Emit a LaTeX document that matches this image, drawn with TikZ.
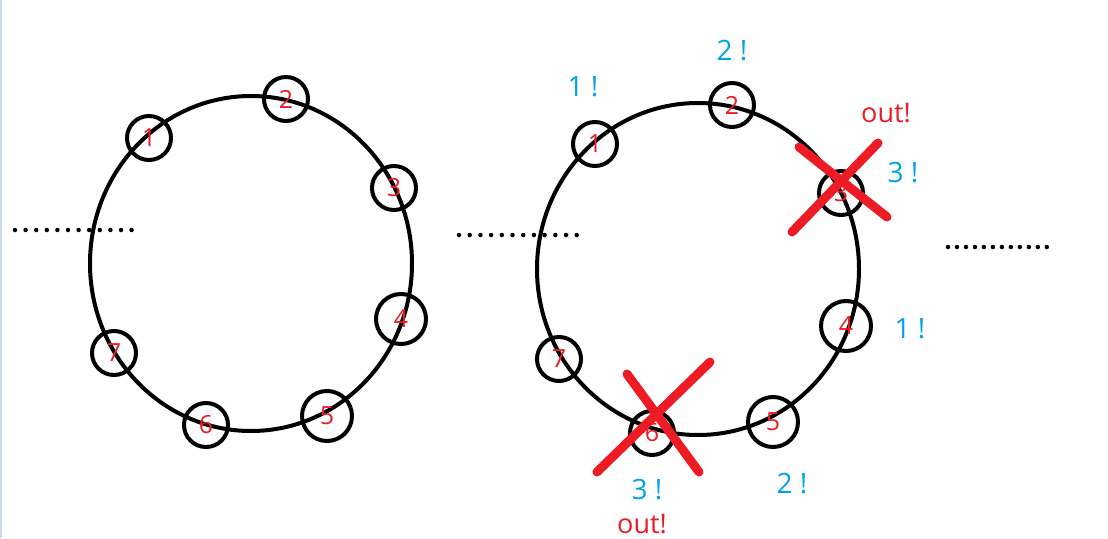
\documentclass[tikz,border=0pt]{standalone}
\usepackage{fontspec}
\setmainfont{Open Sans}
\usetikzlibrary{positioning}
\definecolor{paintred}{HTML}{ED1C24}
\definecolor{paintblue}{HTML}{00A2E8}
\definecolor{edgeblue}{HTML}{C8D8EC}

\begin{document}
\begin{tikzpicture}[x=1pt,y=-1pt,
  seat/.style={circle,draw,line width=4pt,minimum size=44pt,inner sep=0pt,text=paintred,font=\fontsize{25}{25}\selectfont},
  bigseat/.style={seat,minimum size=50pt},
  call/.style={text=paintblue,font=\fontsize{28}{28}\selectfont},
  outtext/.style={text=paintred,font=\fontsize{27}{27}\selectfont},
  ring/.style={line width=4pt},
  dotrow/.style={line width=4.5pt,line cap=round,dash pattern=on 0pt off #1},
  cross/.style={paintred,line width=9pt,line cap=round}]
\useasboundingbox (0,0) rectangle (1108,538);
\draw[edgeblue,line width=1.5pt] (0.75,0) -- (0.75,538);

\draw[ring] (251,263.5) ellipse [x radius=161,y radius=167.5];
\node[seat] (l1) at (149,138) {1};
\node[seat] (l2) at (286,99) {2};
\node[seat] (l3) at (394,188) {3};
\node[bigseat] (l4) at (401,319) {4};
\node[bigseat] (l5) at (327,416) {5};
\node[seat] (l6) at (206,425) {6};
\node[seat] (l7) at (114,353) {7};
\draw[dotrow=10.6pt] (15,230) -- (132,230);

\draw[ring] (698,269) ellipse [x radius=161,y radius=166];
\node[seat] (r1) at (595,144) {1};
\node[seat] (r2) at (732,105) {2};
\node[seat] (r3) at (841,193) {3};
\node[bigseat] (r4) at (846,326) {4};
\node[bigseat] (r5) at (773,422) {5};
\node[seat] (r6) at (652,433) {6};
\node[seat] (r7) at (559,359) {7};
\draw[dotrow=10.7pt] (459,235) -- (578,235);
\draw[dotrow=8.98pt] (948,247) -- (1047,247);

\node[call] (c1) at (583,87) {1 !};
\node[call] (c2) at (732,51) {2 !};
\node[call] (c3) at (903,173) {3 !};
\node[outtext] (o3) at (886,113) {out!};
\node[call] (c4) at (910,329) {1 !};
\node[call] (c5) at (792,484) {2 !};
\node[call] (c6) at (647,490) {3 !};
\node[outtext] (o6) at (642,524) {out!};

\draw[cross] (799,147) -- (887,217);
\draw[cross] (792,232) -- (878,143);
\draw[cross] (627,374) -- (699,472);
\draw[cross] (597,472) -- (710,362);
\end{tikzpicture}
\end{document}
